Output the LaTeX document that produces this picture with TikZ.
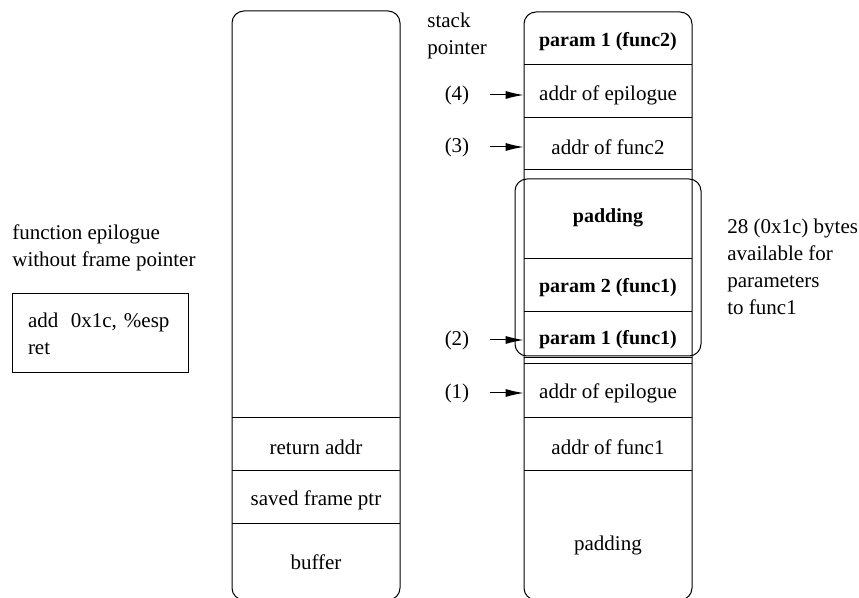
\documentclass[tikz,border=0pt]{standalone}
\usepackage{fontspec}
\setmainfont{Liberation Serif}
\usepackage{tikz}
\usetikzlibrary{arrows.meta}
\tikzstyle{stackbox}=[line width=0.5pt, rounded corners=6pt]
\tikzstyle{divider}=[line width=0.5pt]
\tikzstyle{cell}=[minimum width=84pt, inner sep=0pt]
\tikzstyle{boldcell}=[cell, font=\rmfamily\bfseries]
\tikzstyle{spLabel}=[inner sep=0pt]
\tikzstyle{ptr}=[-{Latex[length=9pt,width=4pt]}, line width=0.5pt, shorten <=10pt]
\tikzstyle{note}=[align=left, inner sep=0pt, anchor=west]

\begin{document}
\begin{tikzpicture}[x=0.5pt, y=-0.5pt, font=\rmfamily\fontsize{10.5}{13.5}\selectfont]
      \useasboundingbox (0,0) rectangle (859,598);
      % vulnerable frame
      \draw[stackbox] (232,11) rectangle (400,600);
      \foreach \y in {418,471,524}
        \draw[divider] (232,\y) -- (400,\y);
      \node(ret) [cell] at (316,447) {return addr};
      \node(sfp) [cell] at (316,500) {saved frame ptr};
      \node(buf) [cell] at (316,562) {buffer};
      % overwritten stack
      \draw[stackbox] (524,12) rectangle (692,600);
      \foreach \y in {65,118,170,259,312,358,364,418,471}
        \draw[divider] (524,\y) -- (692,\y);
      \node(par1f2) [boldcell] at (608,42) {param 1 (func2)};
      \node(epi2) [cell] at (608,95) {addr of epilogue};
      \node(f2) [cell] at (608,147) {addr of func2};
      \node(pad1) [boldcell] at (608,218) {padding};
      \node(par2f1) [boldcell] at (608,288) {param 2 (func1)};
      \node(par1f1) [boldcell] at (608,340) {param 1 (func1)};
      \node(epi1) [cell] at (608,393) {addr of epilogue};
      \node(f1) [cell] at (608,447) {addr of func1};
      \node(pad0) [cell] at (608,545) {padding};
      % params of func1
      \draw[stackbox] (515,179) rectangle (701,356);
      % stack pointer
      \node(sp) [note] at (427,36) {stack\\pointer};
      \node(sp4) [spLabel] at (457,95) {(4)};
      \node(sp3) [spLabel] at (457,147) {(3)};
      \node(sp2) [spLabel] at (457,340) {(2)};
      \node(sp1) [spLabel] at (457,393) {(1)};
      \draw[ptr] (sp4) -- (sp4 -| epi2.west);
      \draw[ptr] (sp3) -- (sp3 -| f2.west);
      \draw[ptr] (sp2) -- (sp2 -| par1f1.west);
      \draw[ptr] (sp1) -- (sp1 -| epi1.west);
      % notes
      \node(avail) [note] at (727,267) {28 (0x1c) bytes\\available for\\parameters\\to func1};
      \node(epiTitle) [note] at (12,248) {function epilogue\\without frame pointer};
      \node(epiCode) [draw, line width=0.5pt, align=left, text width=72pt, inner xsep=8pt,
        minimum height=39.5pt] at (100,333.5) {add\hspace{0.6em}0x1c, \%esp\\ret};
\end{tikzpicture}
\end{document}
